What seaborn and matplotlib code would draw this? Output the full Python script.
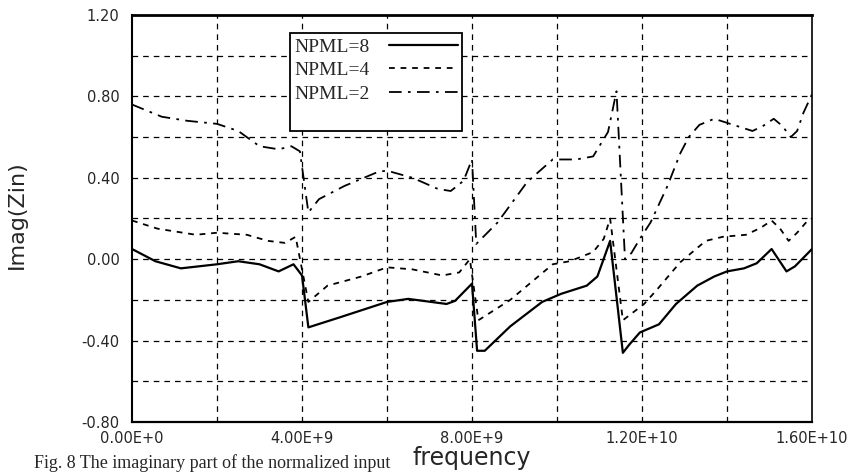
import matplotlib
matplotlib.use("Agg")
import matplotlib.pyplot as plt
from matplotlib.lines import Line2D
import numpy as np
import pandas as pd
import seaborn as sns

# Frequency (GHz) and Imag(Zin) for each PML thickness
freq_npml8 = [0.0, 0.55, 1.15, 2.0, 2.5, 3.0, 3.45, 3.8, 4.0, 4.15, 4.9, 6.0, 6.5, 7.4,
              7.6, 8.0, 8.12, 8.3, 8.9, 9.65, 10.1, 10.7, 10.95, 11.25, 11.55, 11.7,
              11.95, 12.4, 12.8, 13.3, 13.7, 14.0, 14.4, 14.7, 15.05, 15.4, 15.6, 16.0]
imag_npml8 = [0.05, -0.01, -0.045, -0.025, -0.01, -0.025, -0.06, -0.025, -0.08, -0.335,
              -0.285, -0.21, -0.195, -0.22, -0.205, -0.12, -0.45, -0.45, -0.33, -0.21,
              -0.17, -0.13, -0.085, 0.09, -0.46, -0.42, -0.36, -0.32, -0.22, -0.13,
              -0.085, -0.06, -0.045, -0.02, 0.05, -0.06, -0.035, 0.05]

freq_npml4 = [0.0, 0.6, 1.5, 2.0, 2.7, 3.2, 3.6, 3.85, 4.15, 4.6, 5.4, 6.0, 6.6, 7.3,
              7.7, 7.95, 8.15, 8.9, 9.9, 10.3, 10.85, 11.1, 11.25, 11.55, 12.05, 12.35,
              12.9, 13.5, 13.9, 14.45, 14.8, 15.05, 15.25, 15.45, 15.65, 15.9, 16.0]
imag_npml4 = [0.19, 0.15, 0.12, 0.13, 0.12, 0.09, 0.08, 0.11, -0.21, -0.13, -0.085,
              -0.04, -0.05, -0.08, -0.065, 0.0, -0.3, -0.2, -0.025, -0.01, 0.035, 0.1,
              0.2, -0.3, -0.22, -0.15, -0.015, 0.09, 0.11, 0.12, 0.155, 0.19, 0.15,
              0.09, 0.13, 0.19, 0.2]

freq_npml2 = [0.0, 0.7, 1.3, 2.0, 2.5, 3.0, 3.45, 3.75, 3.95, 4.15, 4.4, 5.0, 5.8, 6.0,
              6.6, 7.2, 7.5, 7.8, 8.0, 8.1, 8.6, 9.3, 9.9, 10.45, 10.85, 11.2, 11.4,
              11.6, 11.75, 11.95, 12.2, 12.6, 12.9, 13.1, 13.35, 13.7, 14.0, 14.3, 14.6,
              14.85, 15.1, 15.3, 15.5, 15.65, 15.8, 16.0]
imag_npml2 = [0.76, 0.70, 0.68, 0.665, 0.63, 0.555, 0.54, 0.555, 0.53, 0.23, 0.295,
              0.36, 0.43, 0.435, 0.4, 0.345, 0.335, 0.385, 0.49, 0.075, 0.18, 0.38,
              0.49, 0.49, 0.505, 0.625, 0.825, 0.0, 0.03, 0.1, 0.18, 0.36, 0.52, 0.6,
              0.66, 0.69, 0.67, 0.65, 0.63, 0.655, 0.69, 0.655, 0.6, 0.63, 0.72, 0.81]

series_labels = ["NPML=8", "NPML=4", "NPML=2"]

x_ticks_hz = [0.0, 4e9, 8e9, 1.2e10, 1.6e10]
x_tick_labels = ["0.00E+0", "4.00E+9", "8.00E+9", "1.20E+10", "1.60E+10"]
y_ticks = [-0.8, -0.4, 0.0, 0.4, 0.8, 1.2]
y_tick_labels = ["-0.80", "-0.40", "0.00", "0.40", "0.80", "1.20"]

frames = []
for lab, f, v in zip(series_labels,
                     [freq_npml8, freq_npml4, freq_npml2],
                     [imag_npml8, imag_npml4, imag_npml2]):
    frames.append(pd.DataFrame({"freq": np.array(f) * 1e9, "imag": v, "case": lab}))
df = pd.concat(frames, ignore_index=True)

sns.set_style("white")
plt.rcParams["font.family"] = ["DejaVu Sans"]

fig = plt.figure(figsize=(8.55, 4.74), dpi=100)
ax = fig.add_axes([0.1544, 0.1097, 0.7953, 0.8587])

styles = {
    "NPML=8": dict(linestyle="-", linewidth=1.6),
    "NPML=4": dict(linestyle=(0, (3.2, 3.2)), linewidth=1.3),
    "NPML=2": dict(linestyle=(0, (7, 3.5, 1.5, 3.5)), linewidth=1.3),
}
for lab in series_labels:
    sns.lineplot(data=df[df["case"] == lab], x="freq", y="imag", ax=ax,
                 sort=False, color="black", estimator=None, legend=False,
                 **styles[lab])

ax.set_xlim(0, 1.6e10)
ax.set_ylim(-0.8, 1.2)

# dashed grid every 2E+9 and 0.2
for gx in np.arange(2e9, 1.6e10, 2e9):
    ax.axvline(gx, color="black", linewidth=0.9, linestyle=(0, (4.5, 4)), zorder=0.5)
for gy in np.arange(-0.6, 1.19, 0.2):
    ax.axhline(gy, color="black", linewidth=0.9, linestyle=(0, (4.5, 4)), zorder=0.5)

ax.set_xticks(x_ticks_hz)
ax.set_xticklabels(x_tick_labels, fontsize=10.5)
ax.set_yticks(y_ticks)
ax.set_yticklabels(y_tick_labels, fontsize=10.5)
ax.tick_params(axis="x", length=0, pad=6.5)
ax.tick_params(axis="y", length=0, pad=9)

for side, lw in zip(["left", "bottom", "top", "right"], [1.5, 1.6, 2.0, 1.2]):
    ax.spines[side].set_visible(True)
    ax.spines[side].set_color("black")
    ax.spines[side].set_linewidth(lw)

ax.set_xlabel("frequency", fontsize=17)
ax.xaxis.set_label_coords(0.5, -0.058)
ax.set_ylabel("Imag(Zin)", fontsize=16)
ax.yaxis.set_label_coords(-0.155, 0.51)

handles = [Line2D([], [], color="black", **styles[lab]) for lab in series_labels]
handles.append(Line2D([], [], color="none"))
leg = ax.legend(handles, series_labels + [" "], loc="upper left",
                bbox_to_anchor=(0.232, 0.955), markerfirst=False, frameon=True,
                fancybox=False, shadow=False, handlelength=3.5, handletextpad=1.0,
                labelspacing=0.3, borderpad=0.25, borderaxespad=0.0,
                prop={"family": "Liberation Serif", "size": 14})
leg.get_frame().set_edgecolor("black")
leg.get_frame().set_linewidth(1.3)
leg.get_frame().set_alpha(1.0)

fig.text(0.04, 1.5 / 474, "Fig. 8 The imaginary part of the normalized input",
         fontsize=13, family="Liberation Serif", va="bottom", ha="left")

fig.savefig("out.png", dpi=100)
